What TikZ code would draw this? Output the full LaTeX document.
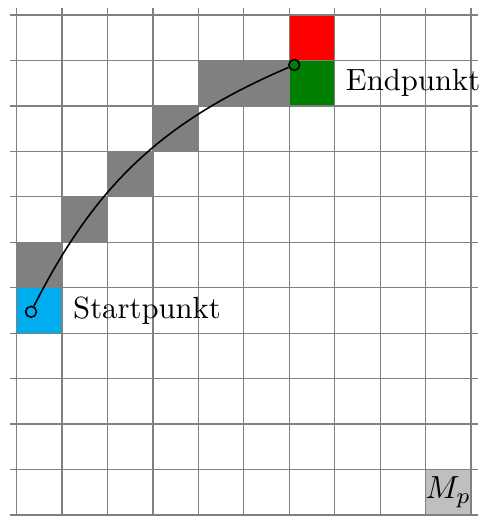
\documentclass[tikz,border=0pt]{standalone}
\definecolor{startblue}{cmyk}{1,0,0,0}
\definecolor{endgreen}{rgb}{0,0.5,0}
\tikzset{
  cellbox/.style={minimum size=0.5cm, inner sep=0pt, outer sep=0pt, draw=none},
  gridline/.style={gray, line width=0.4pt},
  dot/.style={circle, draw=black, inner sep=0pt, minimum size=3.4pt, line width=0.5pt},
  label/.style={right, inner sep=3.33pt, font=\fontsize{9.6}{11.5}\selectfont}
}
\begin{document}
\begin{tikzpicture}[x=0.5cm,y=0.5cm]
\useasboundingbox (-0.363,-0.022) rectangle (10.19,11.33);
% cells
\node[cellbox, fill=startblue] (start) at (0.5,4.5) {};
\node[cellbox, fill=gray] (g1) at (0.5,5.5) {};
\node[cellbox, fill=gray] (g2) at (1.5,6.5) {};
\node[cellbox, fill=gray] (g3) at (2.5,7.5) {};
\node[cellbox, fill=gray] (g4) at (3.5,8.5) {};
\node[cellbox, fill=gray] (g5) at (4.5,9.5) {};
\node[cellbox, fill=gray] (g6) at (5.5,9.5) {};
\node[cellbox, fill=endgreen] (end) at (6.5,9.5) {};
\node[cellbox, fill=red] (r) at (6.5,10.5) {};
\node[cellbox, fill=lightgray, font=\fontsize{9.6}{11.5}\selectfont] (mp) at (9.5,0.5) {$M_p$};
% grid
\draw[gridline, step=0.5cm] (-0.15,-0.15) grid (10.15,11.15);
% labels
\node[label] (st) at (start.east) {Startpunkt};
\node[label] (en) at (end.east) {Endpunkt};
% path
\node[dot] (s) at (0.32,4.47) {};
\node[dot] (e) at (6.11,9.9) {};
\draw[line width=0.5pt] (s) to[bend left=20] (e);
\end{tikzpicture}
\end{document}
